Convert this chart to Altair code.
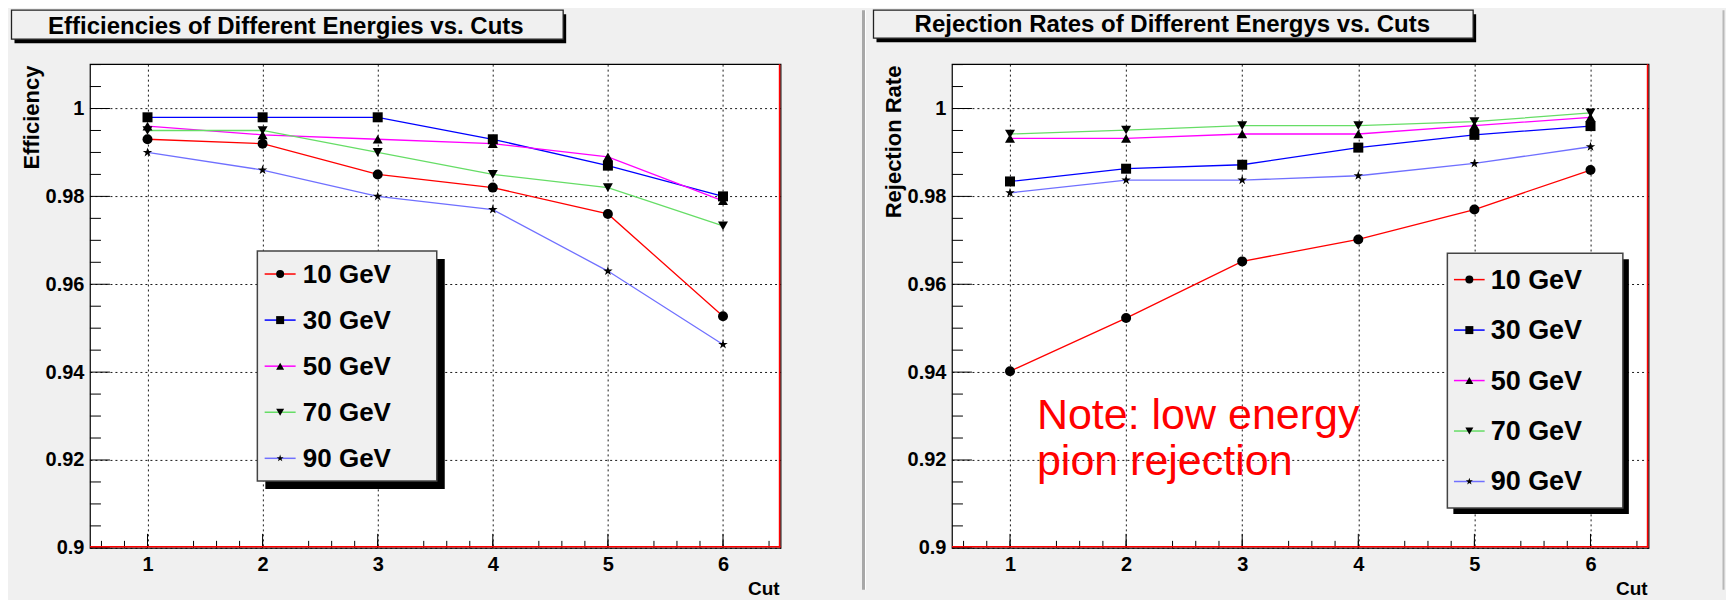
import altair as alt
import pandas as pd

# ---------------- data ----------------
cuts = [1, 2, 3, 4, 5, 6]
series = ["10 GeV", "30 GeV", "50 GeV", "70 GeV", "90 GeV"]
colors = ["#ff0000", "#0000ff", "#ff00ff", "#66dd66", "#7070ff"]
STAR = ("M0,-1L0.2245,-0.309L0.951,-0.309L0.363,0.118L0.588,0.809L0,0.382"
        "L-0.588,0.809L-0.363,0.118L-0.951,-0.309L-0.2245,-0.309Z")
shapes = ["circle", "square", "triangle-up", "triangle-down", STAR]

eff_10 = [0.993, 0.992, 0.985, 0.982, 0.976, 0.9527]
eff_30 = [0.998, 0.998, 0.998, 0.993, 0.987, 0.980]
eff_50 = [0.996, 0.994, 0.993, 0.992, 0.989, 0.979]
eff_70 = [0.995, 0.995, 0.990, 0.985, 0.982, 0.9733]
eff_90 = [0.990, 0.986, 0.980, 0.977, 0.963, 0.9463]

rej_10 = [0.9402, 0.9523, 0.9652, 0.9702, 0.977, 0.986]
rej_30 = [0.9834, 0.9863, 0.9872, 0.9911, 0.994, 0.996]
rej_50 = [0.9932, 0.9932, 0.9942, 0.9942, 0.9961, 0.998]
rej_70 = [0.9942, 0.9951, 0.9961, 0.9961, 0.997, 0.999]
rej_90 = [0.9808, 0.9837, 0.9837, 0.9847, 0.9875, 0.9913]

y_major = [0.9, 0.92, 0.94, 0.96, 0.98, 1.0]
y_minor = [round(0.9 + 0.005 * i, 3) for i in range(23) if i % 4 != 0]
x_minor = [round(0.6 + 0.2 * i, 1) for i in range(30) if (i + 2) % 5 != 0]

left_title = "Efficiencies of Different Energies vs. Cuts"
right_title = "Rejection Rates of Different Energys vs. Cuts"
note_lines = ["Note: low energy", "pion rejection"]
note_x = [1.232, 1.232]
note_y = [0.92714, 0.91654]

# ---------------- style ----------------
F = "Liberation Sans"
BG = "#f0f0f0"
H = 484
W_L = 691
W_R = 697
ONE = alt.Data(values=[{"k": 0}])
XS = alt.Scale(domain=[0.5, 6.5], nice=False, zero=False)
YS = alt.Scale(domain=[0.9, 1.0101], nice=False, zero=False)


def xaxis(W):
    return alt.Axis(values=cuts, title="Cut", grid=True, gridColor="black",
                    gridDash=[2, 3], gridWidth=1, gridOpacity=0.9, domain=False,
                    ticks=False, tickSize=0, labelFont=F, labelFontSize=20,
                    labelFontWeight="bold", labelColor="black", labelPadding=7,
                    labelFlush=False, labelOverlap=False,
                    titleFont=F, titleFontSize=19, titleFontWeight="bold",
                    titleColor="black", titleX=W - 1.5, titleY=47,
                    titleAlign="right", titleBaseline="alphabetic")


def yaxis(title):
    return alt.Axis(values=y_major, format=".2~f", title=title, grid=True,
                    gridColor="black", gridDash=[2, 3], gridWidth=1, gridOpacity=0.9,
                    domain=False, ticks=False, tickSize=0, labelFont=F,
                    labelFontSize=20, labelFontWeight="bold", labelColor="black",
                    labelPadding=6, labelFlush=False, labelOverlap=False,
                    titleFont=F, titleFontSize=22, titleFontWeight="bold",
                    titleColor="black", titleAngle=270, titleAlign="right",
                    titleBaseline="alphabetic", titleX=-51, titleY=1)


def rect(x1, x2, y1, y2, fill, stroke=None, sw=0):
    kw = dict(fill=fill)
    if stroke:
        kw.update(stroke=stroke, strokeWidth=sw)
    else:
        kw.update(strokeWidth=0)
    return alt.Chart(ONE).mark_rect(**kw).encode(
        x=alt.value(x1), x2=alt.value(x2), y=alt.value(y1), y2=alt.value(y2))


def panel(vals, W, ytitle, title, tbox, tcx, tby, leg, frame_layers, note=False):
    xa = xaxis(W)
    ya = yaxis(ytitle)
    df = pd.DataFrame({
        "cut": cuts * len(series),
        "value": [v for lst in vals for v in lst],
        "series": [s for s in series for _ in cuts],
    })
    X = lambda f: alt.X(f, type="quantitative", scale=XS, axis=xa)
    Y = lambda f: alt.Y(f, type="quantitative", scale=YS, axis=ya)

    layers = list(frame_layers)

    # inward ticks
    layers.append(alt.Chart(pd.DataFrame({"t": cuts})).mark_rule(color="black", strokeWidth=1)
                  .encode(x=X("t"), y=alt.value(H), y2=alt.value(H - 14)))
    layers.append(alt.Chart(pd.DataFrame({"t": x_minor})).mark_rule(color="black", strokeWidth=1)
                  .encode(x=X("t"), y=alt.value(H), y2=alt.value(H - 7)))
    layers.append(alt.Chart(pd.DataFrame({"t": y_major})).mark_rule(color="black", strokeWidth=1)
                  .encode(y=Y("t"), x=alt.value(0), x2=alt.value(20)))
    layers.append(alt.Chart(pd.DataFrame({"t": y_minor})).mark_rule(color="black", strokeWidth=1)
                  .encode(y=Y("t"), x=alt.value(0), x2=alt.value(11)))

    # data
    layers.append(alt.Chart(df).mark_line(strokeWidth=1.3).encode(
        x=X("cut"), y=Y("value"),
        color=alt.Color("series:N", scale=alt.Scale(domain=series, range=colors), legend=None),
        detail="series:N", order="cut:Q"))
    layers.append(alt.Chart(df).mark_point(filled=True, color="black", opacity=1).encode(
        x=X("cut"), y=Y("value"),
        shape=alt.Shape("series:N", scale=alt.Scale(domain=series, range=shapes), legend=None),
        size=alt.Size("series:O", scale=alt.Scale(domain=series, range=[100, 100, 100, 100, 75]),
                      legend=None)))

    # frame red lines
    layers.append(alt.Chart(ONE).mark_rule(color="#ff0000", strokeWidth=1.5).encode(
        x=alt.value(W - 1), y=alt.value(0), y2=alt.value(H)))
    layers.append(alt.Chart(ONE).mark_rule(color="#ff0000", strokeWidth=1.5).encode(
        x=alt.value(0), x2=alt.value(W), y=alt.value(H - 1)))

    # note
    if note:
        ndf = pd.DataFrame({"x": note_x, "y": note_y, "t": note_lines})
        layers.append(alt.Chart(ndf).mark_text(font=F, fontSize=43, color="#ff0000",
                                                align="left", baseline="alphabetic")
                      .encode(x=X("x"), y=Y("y"), text="t:N"))

    # legend
    bx1, bx2, by1, by2 = leg["box"]
    sh = leg["shadow"]
    layers.append(rect(bx1 + sh, bx2 + sh, by1 + sh, by2 + sh, "black"))
    layers.append(rect(bx1, bx2, by1, by2, BG, "#444444", 1.5))
    lx1, lx2 = leg["line"]
    for i, s in enumerate(series):
        yy = leg["rows"][i]
        layers.append(alt.Chart(ONE).mark_rule(color=colors[i], strokeWidth=1.5).encode(
            x=alt.value(lx1), x2=alt.value(lx2), y=alt.value(yy)))
        layers.append(alt.Chart(ONE).mark_point(filled=True, color="black", opacity=1,
                                                shape=shapes[i],
                                                size=64 if i < 4 else 55).encode(
            x=alt.value(leg["mx"]), y=alt.value(yy)))
        layers.append(alt.Chart(ONE).mark_text(text=s, font=F, fontSize=leg["fs"],
                                               fontWeight="bold", color="black",
                                               align="left", baseline="middle").encode(
            x=alt.value(leg["tx"]), y=alt.value(yy + 1)))

    # title box
    tx1, tx2, ty1, ty2 = tbox
    layers.append(rect(tx1 + 3, tx2 + 3, ty1 + 4, ty2 + 4, "black"))
    layers.append(rect(tx1, tx2, ty1, ty2, BG, "#222222", 1.3))
    layers.append(alt.Chart(ONE).mark_text(text=title, font=F, fontSize=24, fontWeight="bold",
                                           color="black", align="center",
                                           baseline="alphabetic").encode(
        x=alt.value(tcx), y=alt.value(tby)))

    return alt.layer(*layers).properties(width=W, height=H)


left_frame = [rect(-80.5, -79.5, -54, 526, BG)]
right_frame = [rect(-90, -87, -54, 526, "#a8a8a8"),
               rect(-87, -86, -54, 526, "white"),
               rect(771, 773, -54, 526, "#b8b8b8")]

left = panel([eff_10, eff_30, eff_50, eff_70, eff_90], W_L, "Efficiency", left_title,
             (-78.5, 473.5, -54, -25), 196, -30.3,
             dict(box=(167.5, 347, 187, 417), shadow=8,
                  rows=[210, 256.1, 302.2, 348.3, 394.4], line=(174.8, 205.8),
                  mx=190.3, tx=213, fs=26),
             left_frame)

right = panel([rej_10, rej_30, rej_50, rej_70, rej_90], W_R, "Rejection Rate", right_title,
              (-78.5, 521.5, -54, -26), 220.5, -32,
              dict(box=(495.7, 671.3, 189.3, 444), shadow=6,
                   rows=[215.6, 266.1, 316.6, 367.1, 417.6], line=(502.3, 533),
                   mx=517.7, tx=539, fs=27),
              right_frame, note=True)

chart = alt.hconcat(left, right, spacing=171.5, bounds="flush").properties(
    padding=0, background=BG
).configure_view(fill="white", stroke="black", strokeWidth=1.2)

chart.save("out.html", embed_options={"renderer": "svg", "actions": False})
